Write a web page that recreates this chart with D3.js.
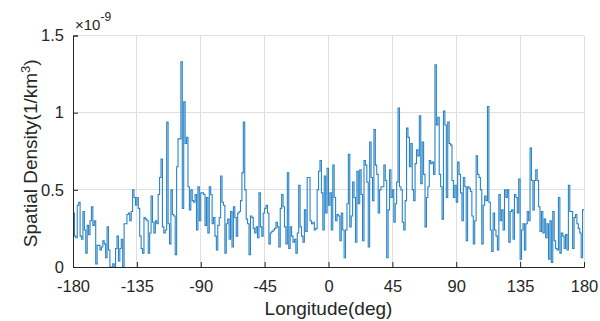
<!DOCTYPE html>
<html>
<head>
<meta charset="utf-8">
<script src="https://cdn.jsdelivr.net/npm/d3@7"></script>
<style>
  html, body { margin: 0; padding: 0; background: #fff; }
  svg { display: block; font-family: "Liberation Sans", Arial, Helvetica, sans-serif; }
</style>
</head>
<body>
<div id="chart"></div>
<script>
// spatial density per 1-degree longitude bin, in units of 1e-9 (1/km^3)
const lonStart = -180
const lonEnd = 180
const densityW180 = [
	0.35, 0.20, 0.19, 0.40, 0.42, 0.20, 0.18, 0.36, 0.24, 0.09,
	0.27, 0.21, 0.30, 0.39, 0.27, 0.30, 0.02, 0.14, 0.14, 0.11,
	0.13, 0.17, 0.15, 0.06, 0.26, 0.11, 0.00, 0.00, 0.02, 0.00,
	0.12, 0.20, 0.04, 0.12, 0.18, 0.00, 0.28, 0.28, 0.34, 0.35,
	0.30, 0.36, 0.50, 0.45, 0.40
]
const densityW135 = [
	0.45, 0.38, 0.20, 0.12, 0.09, 0.32, 0.31, 0.30, 0.09, 0.22,
	0.46, 0.29, 0.22, 0.30, 0.28, 0.47, 0.58, 0.70, 0.26, 0.22,
	0.24, 0.94, 0.28, 0.15, 0.50, 0.34, 0.33, 0.08, 0.65, 0.83,
	0.83, 1.33, 0.38, 1.07, 0.80, 0.84, 0.52, 0.37, 0.50, 0.43,
	0.42, 0.47, 0.24, 0.52, 0.30
]
const densityW90 = [
	0.48, 0.48, 0.47, 0.27, 0.45, 0.22, 0.52, 0.47, 0.28, 0.32,
	0.20, 0.11, 0.27, 0.32, 0.59, 0.42, 0.40, 0.09, 0.28, 0.31,
	0.18, 0.36, 0.13, 0.39, 0.32, 0.20, 0.35, 0.36, 0.43, 0.61,
	0.94, 0.50, 0.31, 0.28, 0.08, 0.33, 0.32, 0.25, 0.22, 0.26,
	0.19, 0.48, 0.26, 0.20, 0.35
]
const densityW45 = [
	0.38, 0.40, 0.35, 0.15, 0.22, 0.23, 0.24, 0.25, 0.29, 0.26,
	0.13, 0.38, 0.47, 0.39, 0.26, 0.15, 0.61, 0.12, 0.26, 0.20,
	0.16, 0.18, 0.09, 0.22, 0.53, 0.26, 0.20, 0.16, 0.37, 0.23,
	0.58, 0.58, 0.30, 0.28, 0.29, 0.24, 0.25, 0.50, 0.62, 0.69,
	0.48, 0.24, 0.59, 0.35, 0.64
]
const densityE0 = [
	0.40, 0.48, 0.24, 0.66, 0.45, 0.30, 0.34, 0.33, 0.17, 0.35,
	0.24, 0.06, 0.24, 0.41, 0.73, 0.26, 0.33, 0.55, 0.45, 0.16,
	0.62, 0.41, 0.63, 0.47, 0.17, 0.69, 0.66, 0.55, 0.13, 0.81,
	0.58, 0.43, 0.89, 0.66, 0.60, 0.35, 0.50, 0.52, 0.52, 0.66,
	0.56, 0.06, 0.37, 0.63, 0.45
]
const densityE45 = [
	0.50, 0.29, 0.41, 0.55, 1.03, 0.52, 0.50, 0.29, 0.24, 0.43,
	0.90, 0.84, 0.65, 0.80, 0.50, 0.43, 0.67, 0.76, 0.72, 0.98,
	0.54, 0.81, 0.60, 0.26, 0.45, 0.52, 0.69, 0.67, 0.68, 0.60,
	1.31, 0.92, 0.97, 0.60, 0.52, 0.31, 1.01, 0.92, 0.45, 0.94,
	0.80, 0.79, 0.56, 0.45, 0.53
]
const densityE90 = [
	0.42, 0.68, 0.60, 0.48, 0.30, 0.58, 0.52, 0.17, 0.52, 0.51,
	0.49, 0.33, 0.15, 0.30, 0.72, 0.60, 0.58, 0.50, 0.15, 0.40,
	0.46, 0.43, 1.04, 0.42, 0.24, 0.10, 0.35, 0.24, 0.20, 0.11,
	0.47, 0.30, 0.37, 0.24, 0.50, 0.45, 0.50, 0.16, 0.36, 0.37,
	0.18, 0.47, 0.45, 0.35, 0.57
]
const densityE135 = [
	0.05, 0.24, 0.28, 0.11, 0.28, 0.36, 0.30, 0.77, 0.56, 0.37,
	0.56, 0.63, 0.56, 0.39, 0.23, 0.36, 0.22, 0.31, 0.19, 0.28,
	0.05, 0.30, 0.03, 0.36, 0.17, 0.12, 0.11, 0.45, 0.09, 0.22,
	0.20, 0.12, 0.21, 0.11, 0.53, 0.36, 0.36, 0.12, 0.32, 0.34,
	0.28, 0.25, 0.22, 0.06, 0.37
]

const xTicks = [-180, -135, -90, -45, 0, 45, 90, 135, 180]
const yTicks = [0, 0.5, 1, 1.5]
const yTickLabels = ["0", "0.5", "1", "1.5"]
const exponent = "-9"
const xLabel = "Longitude(deg)"

const width = 600
const height = 321
const plotLeft = 73
const plotRight = 584
const plotTop = 35.5
const plotBottom = 267
const axisColor = "#262626"
const gridColor = "#dfdfdf"
const lineColor = "#2a84c7"

const density = [].concat(densityW180, densityW135, densityW90, densityW45, densityE0, densityE45, densityE90, densityE135)
const points = density.map((d, i) => ({ lon: lonStart + i, v: d }))
points.push({ lon: lonEnd, v: density[density.length - 1] })

const x = d3.scaleLinear().domain([lonStart, lonEnd]).range([plotLeft, plotRight])
const y = d3.scaleLinear().domain([0, 1.5]).range([plotBottom, plotTop])

const svg = d3.select("#chart").append("svg").attr("width", width).attr("height", height)

// grid
const grid = svg.append("g").attr("stroke", gridColor).attr("stroke-width", 1).attr("shape-rendering", "crispEdges")
grid.selectAll(".gx")
	.data(xTicks.slice(1))
	.enter()
	.append("line")
	.attr("x1", d => x(d))
	.attr("x2", d => x(d))
	.attr("y1", plotTop)
	.attr("y2", plotBottom)
grid.selectAll(".gy")
	.data(yTicks.slice(1))
	.enter()
	.append("line")
	.attr("x1", plotLeft)
	.attr("x2", plotRight)
	.attr("y1", d => y(d))
	.attr("y2", d => y(d))

// data
svg.append("path")
	.datum(points)
	.attr("fill", "none")
	.attr("stroke", lineColor)
	.attr("stroke-width", 1.1)
	.attr("stroke-linejoin", "miter")
	.attr(
		"d",
		d3
			.line()
			.curve(d3.curveStepAfter)
			.x(d => x(d.lon))
			.y(d => y(d.v))
	)

// axes
const xAxis = svg
	.append("g")
	.attr("transform", `translate(0,${plotBottom})`)
	.call(d3.axisBottom(x).tickValues(xTicks).tickSize(-5).tickPadding(13).tickFormat(d3.format("d")))
const yAxis = svg
	.append("g")
	.attr("transform", `translate(${plotLeft},0)`)
	.call(
		d3
			.axisLeft(y)
			.tickValues(yTicks)
			.tickSize(-5)
			.tickPadding(9)
			.tickFormat((d, i) => yTickLabels[i])
	)

for (const ax of [xAxis, yAxis]) {
	ax.attr("font-family", null).attr("font-size", null)
	ax.select(".domain").attr("stroke", axisColor).attr("stroke-width", 1)
	ax.selectAll(".tick line").attr("stroke", axisColor)
	ax.selectAll(".tick text").attr("fill", axisColor).style("font-size", "16.5px")
}
xAxis.selectAll(".tick text").text(d => (d < 0 ? "-" + Math.abs(d) : String(d)))

// exponent
const expText = svg.append("text").attr("x", plotLeft + 2).attr("y", 30).attr("fill", axisColor).style("font-size", "15px")
expText.append("tspan").text("\u00d710")
expText.append("tspan").attr("dy", -9).style("font-size", "12px").text(exponent)

// labels
svg.append("text")
	.attr("x", (plotLeft + plotRight) / 2)
	.attr("y", 315)
	.attr("text-anchor", "middle")
	.attr("fill", axisColor)
	.style("font-size", "19px")
	.text(xLabel)

const yLab = svg
	.append("text")
	.attr("transform", `translate(37,${(plotTop + plotBottom) / 2 + 2}) rotate(-90)`)
	.attr("text-anchor", "middle")
	.attr("fill", axisColor)
	.style("font-size", "19px")
yLab.append("tspan").text("Spatial Density(1/km")
yLab.append("tspan").attr("dy", -7).style("font-size", "13px").text("3")
yLab.append("tspan").attr("dy", 7).text(")")
</script>
</body>
</html>
